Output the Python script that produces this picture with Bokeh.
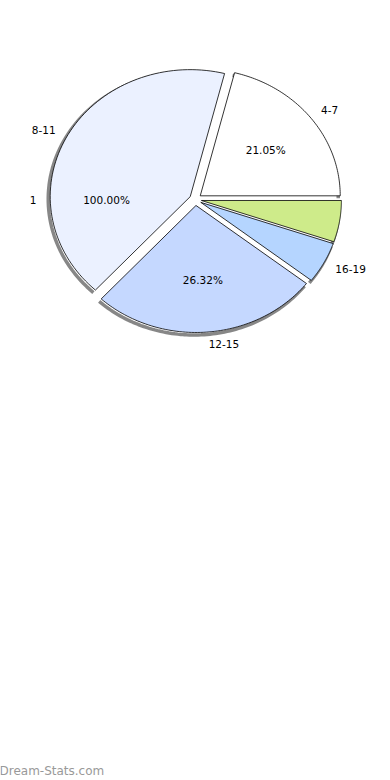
import numpy as np
from bokeh.plotting import figure
from bokeh.models import ColumnDataSource
from bokeh.core.properties import value
from bokeh.embed import file_html
from bokeh.resources import INLINE

# ---- data ----
categories = ["4-7", "8-11", "12-15", "16-19", ""]
counts = [4, 8, 5, 1, 1]
pct_labels = ["21.05%", "", "26.32%", "", ""]
colors = ["#FFFFFF", "#EBF1FF", "#C5D8FF", "#B5D5FF", "#CEEB8A"]
ghost_label = "1"
ghost_pct = "100.00%"
watermark = "Dream-Stats.com"

# ---- layout constants ----
W, H = 390, 780
CX, CY = 195, 199
RX, RY = 141, 128
EXPLODE = 6
LRX, LRY = 159, 145
PRX, PRY = 89, 81
FONT = value("DejaVu Sans")

p = figure(width=W, height=H, x_range=(0, W), y_range=(H, 0),
           output_backend="svg", toolbar_location=None,
           min_border=0, outline_line_color=None)
p.axis.visible = False
p.grid.visible = False
p.background_fill_color = "white"

vals = np.array(counts, dtype=float)
frac = vals / vals.sum()
ends = np.cumsum(frac) * 2 * np.pi
starts = ends - frac * 2 * np.pi
mids = (starts + ends) / 2

xs, ys, sxs, sys_ = [], [], [], []
for a0, a1, am in zip(starts, ends, mids):
    ox = CX + EXPLODE * np.cos(am)
    oy = CY - EXPLODE * np.sin(am)
    t = np.linspace(a0, a1, 80)
    px = ox + (RX - 1) * np.cos(t)
    py = oy - (RY - 1) * np.sin(t)
    xs.append([ox] + list(px))
    ys.append([oy] + list(py))
    sxs.append(list(px - 2))
    sys_.append(list(py + 2.5))

p.multi_line(sxs, sys_, line_color="#7a7a7a", line_width=3.5, line_alpha=0.9)
p.patches(xs, ys, fill_color=colors, line_color="#000000", line_width=0.8)

# slice name labels
lx, ly, align = [], [], []
for am in mids:
    lx.append(CX + LRX * np.cos(am))
    ly.append(CY - LRY * np.sin(am))
    align.append("left" if np.cos(am) >= 0 else "right")
src = ColumnDataSource(dict(x=lx, y=ly, t=categories, a=align))
p.text("x", "y", text="t", source=src, text_align="a", text_baseline="middle",
       text_font=FONT, text_font_size="10.5px", text_color="#000000")

# percentage labels
px_ = [CX + PRX * np.cos(am) for am in mids]
py_ = [CY - PRY * np.sin(am) for am in mids]
p.text(px_, py_, text=pct_labels, text_align="center", text_baseline="middle",
       text_font=FONT, text_font_size="10.5px", text_color="#000000")

# extra labels drawn by the original at 180 degrees
p.text([CX - LRX], [CY], text=[ghost_label], text_align="right", text_baseline="middle",
       text_font=FONT, text_font_size="10.5px", text_color="#000000")
p.text([CX - PRX], [CY], text=[ghost_pct], text_align="center", text_baseline="middle",
       text_font=FONT, text_font_size="10.5px", text_color="#000000")

p.text([-1], [770], text=[watermark], text_align="left", text_baseline="middle",
       text_font=FONT, text_font_size="12px", text_color="#999999")

open("out.html", "w").write(file_html(p, INLINE))
